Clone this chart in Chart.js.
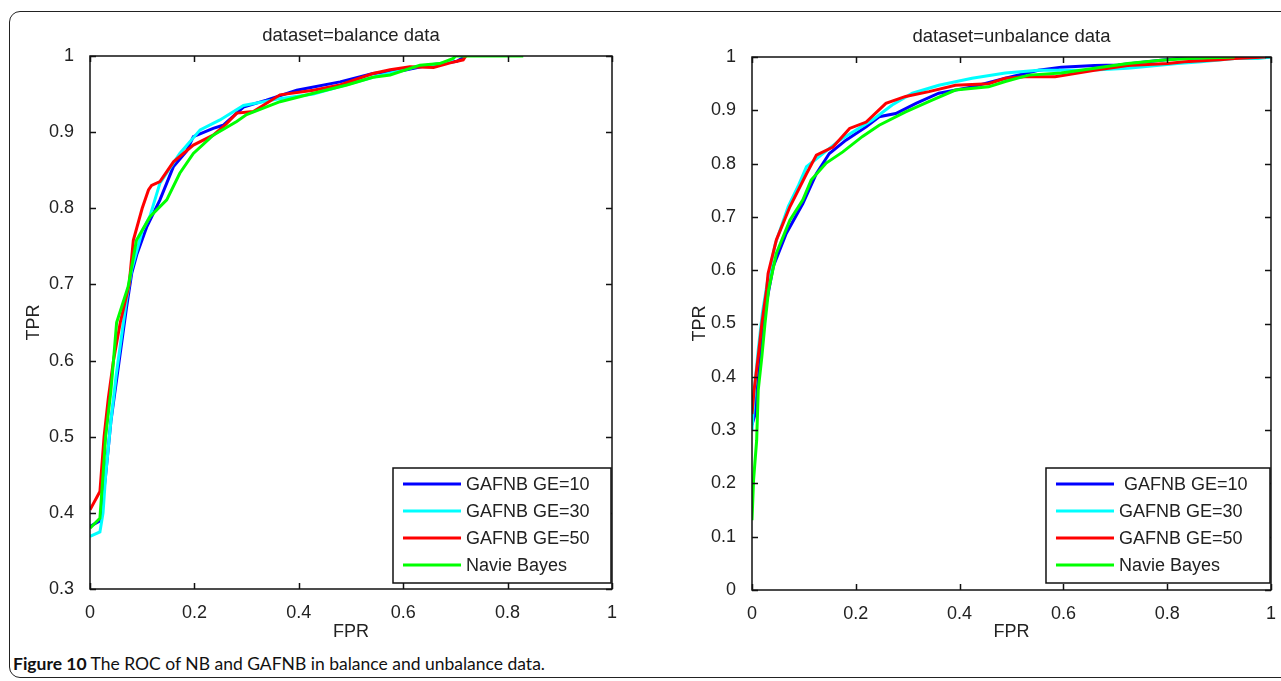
<!DOCTYPE html>
<html>
<head>
<meta charset="utf-8">
<script src="https://cdn.jsdelivr.net/npm/chart.js@4.4.1/dist/chart.umd.min.js"></script>
<style>
  html, body { margin: 0; padding: 0; background: #fff; }
  body { width: 1281px; height: 681px; position: relative; overflow: hidden; }
  #frame {
    position: absolute; left: 9px; top: 11px; width: 1320px; height: 667px;
    border: 1.5px solid #222; border-radius: 11px; box-sizing: border-box;
  }
  canvas { position: absolute; top: 0; }
  #cvBal { left: 0; }
  #cvUnbal { left: 640px; }
  #caption {
    position: absolute; left: 13px; top: 653px;
    font-family: Lato, "Noto Sans", sans-serif; font-size: 17.5px; color: #111; white-space: nowrap;
  }
  #caption b { font-weight: 700; }
</style>
</head>
<body>
<div id="frame"></div>
<canvas id="cvBal" width="640" height="650"></canvas>
<canvas id="cvUnbal" width="641" height="650"></canvas>
<div id="caption"><b>Figure 10</b> The ROC of NB and GAFNB in balance and unbalance data.</div>
<script>
// === LABELS ===
const seriesNames = ["GAFNB GE=10", "GAFNB GE=30", "GAFNB GE=50", "Navie Bayes"];
const seriesNamesUnbal = [" GAFNB GE=10", "GAFNB GE=30", "GAFNB GE=50", "Navie Bayes"];
const seriesColors = ["#0000ff", "#00ffff", "#ff0000", "#00ff00"];
const xTicks = [0, 0.2, 0.4, 0.6, 0.8, 1];

// === BALANCE DATA ===
const balFpr10 = [0, 0.02, 0.03, 0.04, 0.05, 0.06, 0.07, 0.08, 0.09, 0.109, 0.134, 0.16, 0.185, 0.198, 0.236, 0.255, 0.294, 0.338, 0.396, 0.479, 0.542, 0.6, 0.65, 0.703, 0.72];
const balTpr10 = [0.382, 0.39, 0.45, 0.52, 0.57, 0.62, 0.67, 0.715, 0.74, 0.776, 0.811, 0.855, 0.875, 0.894, 0.905, 0.909, 0.933, 0.942, 0.955, 0.966, 0.977, 0.981, 0.988, 0.993, 1];
const balFpr30 = [0, 0.019, 0.025, 0.03, 0.04, 0.05, 0.06, 0.07, 0.08, 0.1, 0.115, 0.134, 0.172, 0.211, 0.249, 0.294, 0.364, 0.428, 0.542, 0.626, 0.69, 0.70];
const balTpr30 = [0.369, 0.375, 0.4, 0.45, 0.52, 0.58, 0.63, 0.68, 0.72, 0.77, 0.79, 0.833, 0.872, 0.903, 0.916, 0.935, 0.944, 0.95, 0.972, 0.986, 0.992, 1];
const balFpr50 = [0, 0.019, 0.027, 0.035, 0.045, 0.058, 0.075, 0.083, 0.1, 0.112, 0.118, 0.134, 0.16, 0.198, 0.236, 0.26, 0.281, 0.313, 0.364, 0.428, 0.479, 0.542, 0.575, 0.613, 0.658, 0.69, 0.715, 0.72];
const balTpr50 = [0.404, 0.428, 0.5, 0.55, 0.6, 0.65, 0.7, 0.758, 0.8, 0.824, 0.83, 0.835, 0.861, 0.883, 0.896, 0.91, 0.925, 0.927, 0.949, 0.955, 0.962, 0.977, 0.982, 0.986, 0.985, 0.991, 0.995, 1];
const balFprNb = [0, 0.019, 0.025, 0.03, 0.04, 0.045, 0.051, 0.073, 0.089, 0.115, 0.147, 0.172, 0.198, 0.236, 0.281, 0.3, 0.364, 0.428, 0.492, 0.542, 0.575, 0.632, 0.67, 0.696, 0.70, 0.83];
const balTprNb = [0.38, 0.393, 0.45, 0.5, 0.56, 0.6, 0.65, 0.697, 0.758, 0.789, 0.811, 0.846, 0.872, 0.896, 0.914, 0.923, 0.94, 0.951, 0.962, 0.972, 0.975, 0.988, 0.99, 0.997, 1, 1];

// === UNBALANCE DATA ===
const unbFpr10 = [0, 0.006, 0.012, 0.02, 0.028, 0.041, 0.066, 0.098, 0.124, 0.149, 0.181, 0.22, 0.245, 0.277, 0.316, 0.36, 0.424, 0.488, 0.552, 0.596, 0.66, 0.705, 0.788, 0.82, 0.917, 0.95];
const unbTpr10 = [0.31, 0.33, 0.40, 0.47, 0.54, 0.607, 0.669, 0.725, 0.781, 0.819, 0.844, 0.869, 0.888, 0.894, 0.913, 0.932, 0.944, 0.96, 0.975, 0.981, 0.984, 0.985, 0.994, 0.997, 0.999, 1];
const unbFpr30 = [0, 0.005, 0.012, 0.02, 0.03, 0.045, 0.07, 0.09, 0.105, 0.169, 0.232, 0.27, 0.309, 0.36, 0.424, 0.488, 0.552, 0.65, 0.724, 0.82, 0.865, 0.93, 0.975, 1];
const unbTpr30 = [0.30, 0.38, 0.45, 0.52, 0.58, 0.65, 0.72, 0.76, 0.794, 0.844, 0.882, 0.91, 0.932, 0.947, 0.96, 0.97, 0.975, 0.975, 0.979, 0.988, 0.991, 0.997, 0.997, 1];
const unbFpr50 = [0, 0.004, 0.012, 0.019, 0.028, 0.031, 0.047, 0.073, 0.105, 0.124, 0.156, 0.188, 0.22, 0.258, 0.296, 0.341, 0.392, 0.456, 0.488, 0.526, 0.584, 0.66, 0.724, 0.801, 0.833, 0.902, 0.93, 0.99];
const unbTpr50 = [0.33, 0.375, 0.438, 0.5, 0.563, 0.594, 0.657, 0.719, 0.781, 0.816, 0.831, 0.866, 0.878, 0.913, 0.926, 0.935, 0.947, 0.95, 0.96, 0.963, 0.963, 0.975, 0.984, 0.988, 0.991, 0.995, 0.997, 1];
const unbFprNb = [0, 0.003, 0.009, 0.012, 0.019, 0.025, 0.032, 0.047, 0.073, 0.098, 0.114, 0.143, 0.175, 0.213, 0.245, 0.296, 0.347, 0.392, 0.456, 0.488, 0.533, 0.596, 0.66, 0.724, 0.788, 0.84, 0.93];
const unbTprNb = [0.131, 0.206, 0.281, 0.375, 0.438, 0.5, 0.563, 0.632, 0.694, 0.732, 0.769, 0.801, 0.822, 0.851, 0.872, 0.897, 0.919, 0.938, 0.944, 0.954, 0.966, 0.970, 0.979, 0.988, 0.994, 0.997, 1];

const FONT = "Liberation Sans, Arial, sans-serif";
const FS = 18;

function toPoints(xs, ys) {
    return xs.map((x, i) => ({ x: x, y: ys[i] }));
}

function makeDatasets(names, pairs) {
    // green drawn on top (lowest order = drawn last)
    return pairs.map((p, i) => ({
        label: names[i],
        data: toPoints(p[0], p[1]),
        borderColor: seriesColors[i],
        borderWidth: 3,
        pointRadius: 0,
        tension: 0,
        fill: false,
        order: pairs.length - i
    }));
}

// === PLUGIN: box, inward ticks, title, legend ===
const matlabPlot = {
    id: 'matlabPlot',
    afterDraw(chart, args, opts) {
        const ctx = chart.ctx;
        const a = chart.chartArea;
        const xs = chart.scales.x, ys = chart.scales.y;
        ctx.save();
        ctx.strokeStyle = '#111';
        ctx.lineWidth = 1.5;
        ctx.strokeRect(a.left, a.top, a.right - a.left, a.bottom - a.top);

        const tl = 6;
        ctx.beginPath();
        xs.ticks.forEach(t => {
            const px = Math.round(xs.getPixelForValue(t.value)) + 0.5;
            ctx.moveTo(px, a.bottom); ctx.lineTo(px, a.bottom - tl);
            ctx.moveTo(px, a.top); ctx.lineTo(px, a.top + tl);
        });
        ys.ticks.forEach(t => {
            const py = Math.round(ys.getPixelForValue(t.value)) + 0.5;
            ctx.moveTo(a.left, py); ctx.lineTo(a.left + tl, py);
            ctx.moveTo(a.right, py); ctx.lineTo(a.right - tl, py);
        });
        ctx.stroke();

        // title
        ctx.fillStyle = '#222';
        ctx.font = '18.5px ' + FONT;
        ctx.textAlign = 'center';
        ctx.textBaseline = 'middle';
        ctx.fillText(opts.title, (a.left + a.right) / 2, a.top - 20);

        // legend
        ctx.font = FS + 'px ' + FONT;
        const bw = opts.boxWidth, bh = 115;
        const bx = a.right - 1 - bw, by = a.bottom - opts.boxBottom - bh;
        ctx.fillStyle = '#fff';
        ctx.fillRect(bx, by, bw, bh);
        ctx.strokeStyle = '#111';
        ctx.lineWidth = 1.5;
        ctx.strokeRect(bx, by, bw, bh);
        ctx.textAlign = 'left';
        chart.data.datasets.forEach((ds, i) => {
            const ry = by + 16 + i * 27;
            ctx.strokeStyle = ds.borderColor;
            ctx.lineWidth = 3;
            ctx.beginPath();
            ctx.moveTo(bx + 10, ry); ctx.lineTo(bx + 68, ry);
            ctx.stroke();
            ctx.fillStyle = '#222';
            ctx.fillText(ds.label, bx + 73, ry + 1);
        });
        ctx.restore();
    }
};

function fmt(v) { return String(Number(v.toFixed(1))); }

function makeChart(id, datasets, yMin, cfg) {
    return new Chart(document.getElementById(id), {
        type: 'line',
        data: { datasets: datasets },
        plugins: [matlabPlot],
        options: {
            responsive: false,
            animation: false,
            devicePixelRatio: 1,
            layout: { padding: { top: cfg.top, right: cfg.right, left: 0, bottom: 0 } },
            plugins: {
                legend: { display: false },
                tooltip: { enabled: false },
                matlabPlot: { title: cfg.title, boxWidth: cfg.boxWidth, boxBottom: cfg.boxBottom }
            },
            scales: {
                x: {
                    type: 'linear', min: 0, max: 1,
                    afterBuildTicks: s => { s.ticks = xTicks.map(v => ({ value: v })); },
                    afterFit: s => { s.height = cfg.xHeight; },
                    grid: { display: false },
                    border: { display: false },
                    ticks: { color: '#222', font: { family: FONT, size: FS }, padding: 5, maxRotation: 0, callback: fmt },
                    title: { display: true, text: 'FPR', color: '#222', font: { family: FONT, size: FS }, padding: { top: 0, bottom: 7 } }
                },
                y: {
                    type: 'linear', min: yMin, max: 1,
                    ticks: { stepSize: 0.1, color: '#222', font: { family: FONT, size: FS }, padding: 8, callback: fmt },
                    afterFit: s => { s.width = cfg.yWidth; },
                    grid: { display: false },
                    border: { display: false },
                    title: { display: true, text: 'TPR', color: '#222', font: { family: FONT, size: FS }, padding: { top: cfg.yTitlePad, bottom: 0 } }
                }
            }
        }
    });
}

makeChart('cvBal', makeDatasets(seriesNames, [
    [balFpr10, balTpr10], [balFpr30, balTpr30], [balFpr50, balTpr50], [balFprNb, balTprNb]
]), 0.3, { title: 'dataset=balance data', top: 56, right: 28, xHeight: 61, yWidth: 90, yTitlePad: 23, boxWidth: 218, boxBottom: 6 });

makeChart('cvUnbal', makeDatasets(seriesNamesUnbal, [
    [unbFpr10, unbTpr10], [unbFpr30, unbTpr30], [unbFpr50, unbTpr50], [unbFprNb, unbTprNb]
]), 0, { title: 'dataset=unbalance data', top: 57, right: 7, xHeight: 60, yWidth: 112, yTitlePad: 49, boxWidth: 224, boxBottom: 7 });
</script>
</body>
</html>
